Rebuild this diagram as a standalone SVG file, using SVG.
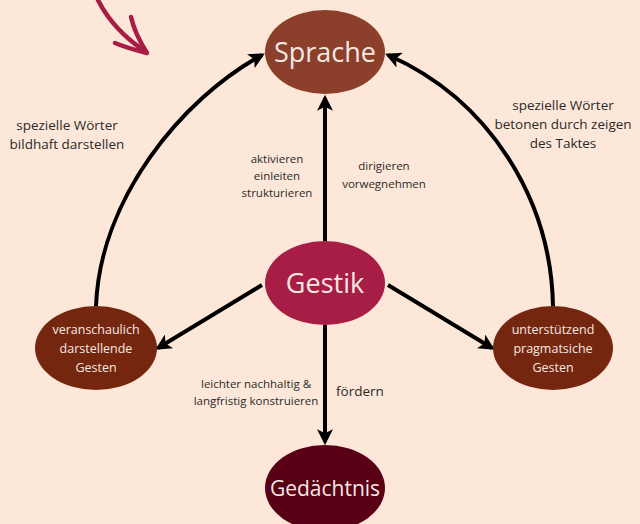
<svg xmlns="http://www.w3.org/2000/svg" width="640" height="524" viewBox="0 0 640 524">
<defs>
<style>
.lbl{font-family:"Open Sans","Liberation Sans",sans-serif;fill:#2a2a2a;text-anchor:middle}
.nt{font-family:"Open Sans","Liberation Sans",sans-serif;fill:#f6e8e2;text-anchor:middle}
.edge{stroke:#000;stroke-width:4;fill:none;marker-end:url(#ah)}
</style>
<marker id="ah" viewBox="0 0 10 10" refX="8" refY="5" markerWidth="4" markerHeight="4" orient="auto" markerUnits="strokeWidth">
<path d="M0,0 L10,5 L0,10 L2.5,5 Z" fill="#000"/>
</marker>
</defs>
<rect width="640" height="524" fill="#fde7d8"/>
<g id="deco">
<path d="M98,0 C108,20 122,36 146,52" stroke="#a71d46" stroke-width="4.5" fill="none" stroke-linecap="round"/>
<path d="M131,17 C134,30 140,42 147,53 C135,50 122,46 115,43" stroke="#a71d46" stroke-width="4.5" fill="none" stroke-linecap="round" stroke-linejoin="round"/>
</g>
<g id="connectors">
<path class="edge" d="M325,241 L325,98"/>
<path class="edge" d="M325,325 L325,442"/>
<path class="edge" d="M262,285 L158,348"/>
<path class="edge" d="M388,285 L492,348"/>
<path class="edge" d="M96,306 C100,200 180,100 262,55"/>
<path class="edge" d="M553,306 C551,200 490,100 388,55"/>
</g>
<g id="sprache">
<ellipse cx="325" cy="52" rx="60" ry="42" fill="#8c3f2b"/>
<text class="nt" x="325" y="62" font-size="27">Sprache</text>
</g>
<g id="gestik">
<ellipse cx="325" cy="283" rx="60" ry="42" fill="#a71d46"/>
<text class="nt" x="325" y="293" font-size="27">Gestik</text>
</g>
<g id="gedaechtnis">
<ellipse cx="325" cy="488" rx="60" ry="43" fill="#5a0016"/>
<text class="nt" x="325" y="496" font-size="21">Gedächtnis</text>
</g>
<g id="veranschaulich">
<ellipse cx="96" cy="348" rx="61" ry="42" fill="#74260f"/>
<text class="nt" font-size="12.5"><tspan x="96" y="334">veranschaulich</tspan><tspan x="96" y="353">darstellende</tspan><tspan x="96" y="372">Gesten</tspan></text>
</g>
<g id="unterstuetzend">
<ellipse cx="553" cy="348" rx="60" ry="42" fill="#74260f"/>
<text class="nt" font-size="12.5"><tspan x="553" y="334">unterstützend</tspan><tspan x="553" y="353">pragmatsiche</tspan><tspan x="553" y="372">Gesten</tspan></text>
</g>
<g id="labels">
<text class="lbl" font-size="13.5"><tspan x="67" y="130">spezielle Wörter</tspan><tspan x="67" y="149">bildhaft darstellen</tspan></text>
<text class="lbl" font-size="13.5"><tspan x="563" y="110">spezielle Wörter</tspan><tspan x="563" y="129">betonen durch zeigen</tspan><tspan x="563" y="148">des Taktes</tspan></text>
<text class="lbl" font-size="11.5"><tspan x="277" y="163">aktivieren</tspan><tspan x="277" y="180">einleiten</tspan><tspan x="277" y="197">strukturieren</tspan></text>
<text class="lbl" font-size="11.5"><tspan x="384" y="170">dirigieren</tspan><tspan x="384" y="188">vorwegnehmen</tspan></text>
<text class="lbl" font-size="11.5"><tspan x="256" y="388">leichter nachhaltig &amp;</tspan><tspan x="256" y="405">langfristig konstruieren</tspan></text>
<text class="lbl" font-size="13.5" x="360" y="396">fördern</text>
</g>
</svg>
